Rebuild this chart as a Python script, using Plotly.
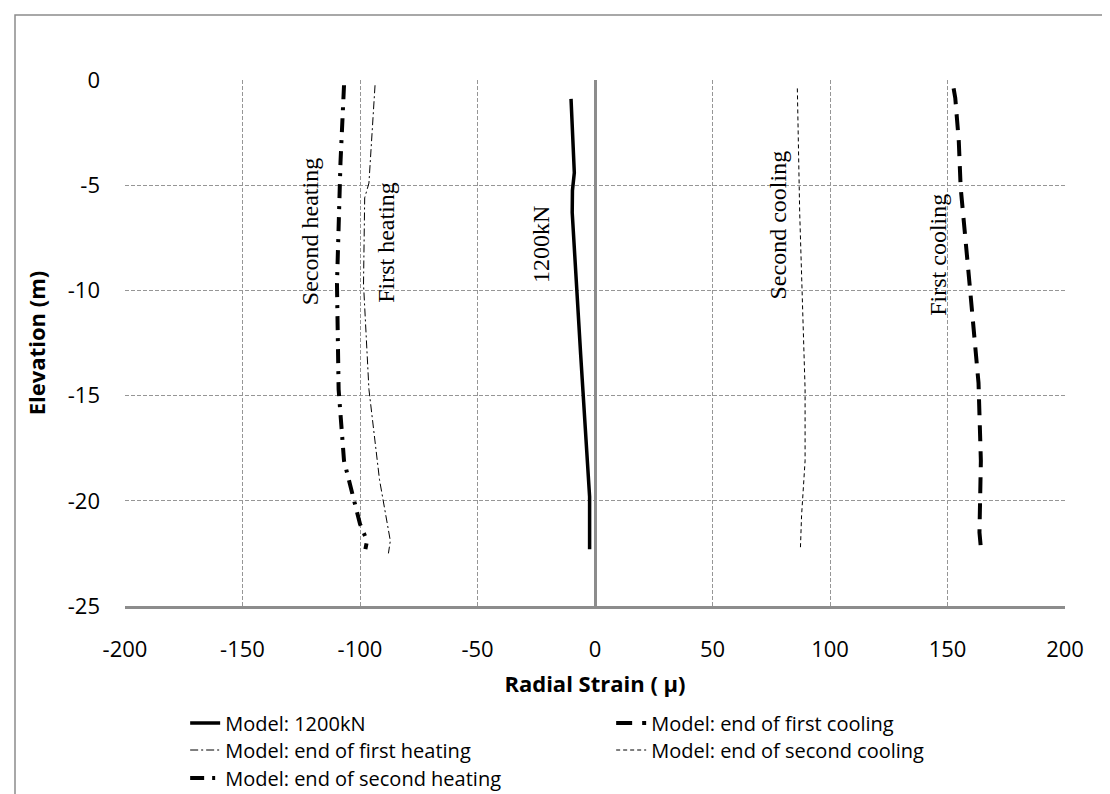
import plotly.graph_objects as go

# ---- data ----
elev_1200 = [-0.9, -3.7, -4.4, -5.25, -6.3, -13.05, -18.1, -19.8, -21.9, -22.3]
strain_1200 = [-10.2, -9.3, -8.8, -9.6, -9.7, -6.1, -3.3, -2.3, -2.3, -2.3]

elev_fc = [-0.4, -0.85, -2.9, -5.1, -9.7, -14.4, -18.1, -21.5, -22.5]
strain_fc = [152.6, 153.3, 154.8, 155.6, 159.4, 163.2, 164.2, 163.6, 164.4]

elev_fh = [-0.25, -4.9, -5.6, -9.7, -14.7, -19.0, -21.9, -22.5]
strain_fh = [-93.6, -96.2, -98.0, -98.5, -96.2, -91.7, -87.1, -87.9]

elev_sc = [-0.4, -6.3, -14.7, -18.1, -20.7, -22.3]
strain_sc = [86.1, 87.1, 89.4, 89.4, 87.9, 87.4]

elev_sh = [-0.25, -3.9, -9.7, -14.7, -18.1, -20.3, -21.1, -21.9, -22.3]
strain_sh = [-106.8, -108.3, -109.8, -109.1, -106.8, -101.5, -100.0, -97.0, -97.7]

labels = ["Second heating", "First heating", "1200kN", "Second cooling", "First cooling"]
label_x = [-121, -89, -23, 78, 146]
label_y = [-7.2, -7.7, -7.8, -6.9, -8.3]

x_ticks = [-200, -150, -100, -50, 0, 50, 100, 150, 200]
y_ticks = [0, -5, -10, -15, -20, -25]

fig = go.Figure()
fig.add_trace(go.Scatter(x=strain_1200, y=elev_1200, mode="lines", name="Model: 1200kN",
                         line=dict(color="black", width=3.5), legend="legend"))
fig.add_trace(go.Scatter(x=strain_fc, y=elev_fc, mode="lines", name="Model: end of first cooling",
                         line=dict(color="black", width=4, dash="16px,10px"), legend="legend"))
fig.add_trace(go.Scatter(x=strain_fh, y=elev_fh, mode="lines", name="Model: end of first heating",
                         line=dict(color="black", width=1, dash="8px,3px,2px,3px"), legend="legend2"))
fig.add_trace(go.Scatter(x=strain_sc, y=elev_sc, mode="lines", name="Model: end of second cooling",
                         line=dict(color="black", width=1, dash="4px,3px"), legend="legend2"))
fig.add_trace(go.Scatter(x=strain_sh, y=elev_sh, mode="lines", name="Model: end of second heating",
                         line=dict(color="black", width=4, dash="14px,8px,3px,8px"), legend="legend3"))

for t, xv, yv in zip(labels, label_x, label_y):
    fig.add_annotation(x=xv, y=yv, text=t, textangle=-90, showarrow=False,
                       font=dict(family="Liberation Serif", size=24, color="black"))

grid = "#969696"
fig.update_xaxes(range=[-200, 200], tickvals=x_ticks, ticktext=[str(v) for v in x_ticks],
                 showgrid=True, gridcolor=grid, griddash="4px,2px", gridwidth=1,
                 zeroline=True, zerolinecolor="#8c8c8c", zerolinewidth=3,
                 showline=True, linecolor="#8c8c8c", linewidth=3,
                 ticks="", ticklabelstandoff=22,
                 tickfont=dict(family="Open Sans", size=22, color="black"),
                 title=dict(text="<b>Radial Strain ( μ)</b>", standoff=15,
                            font=dict(family="Open Sans", size=22, color="black")))
fig.update_yaxes(range=[-25, 0], tickvals=y_ticks, ticktext=[str(v) for v in y_ticks],
                 showgrid=True, gridcolor=grid, griddash="4px,2px", gridwidth=1,
                 zeroline=False, showline=False, ticks="", ticklabelstandoff=24,
                 tickfont=dict(family="Open Sans", size=22, color="black"),
                 title=dict(text="<b>Elevation (m)</b>", standoff=16,
                            font=dict(family="Open Sans", size=22, color="black")))

fig.add_shape(type="rect", xref="paper", yref="paper",
              x0=(7 - 117) / 940, x1=(1105 - 117) / 940,
              y0=(598 - 830) / 526, y1=(598 - 7) / 526,
              line=dict(color="#8c8c8c", width=1.5), fillcolor="rgba(0,0,0,0)", layer="below")

leg_common = dict(orientation="h", x=0.064, xanchor="left", yanchor="middle",
                  entrywidth=381, font=dict(family="Open Sans", size=20, color="black"),
                  bgcolor="rgba(0,0,0,0)")
fig.update_layout(
    width=1110, height=794,
    margin=dict(l=117, r=53, t=72, b=196, autoexpand=False),
    plot_bgcolor="white", paper_bgcolor="white",
    showlegend=True,
    legend=dict(y=(598 - 715) / 526, **leg_common),
    legend2=dict(y=(598 - 742) / 526, **leg_common),
    legend3=dict(y=(598 - 770) / 526, **leg_common),
)

fig.write_html("out.html")
